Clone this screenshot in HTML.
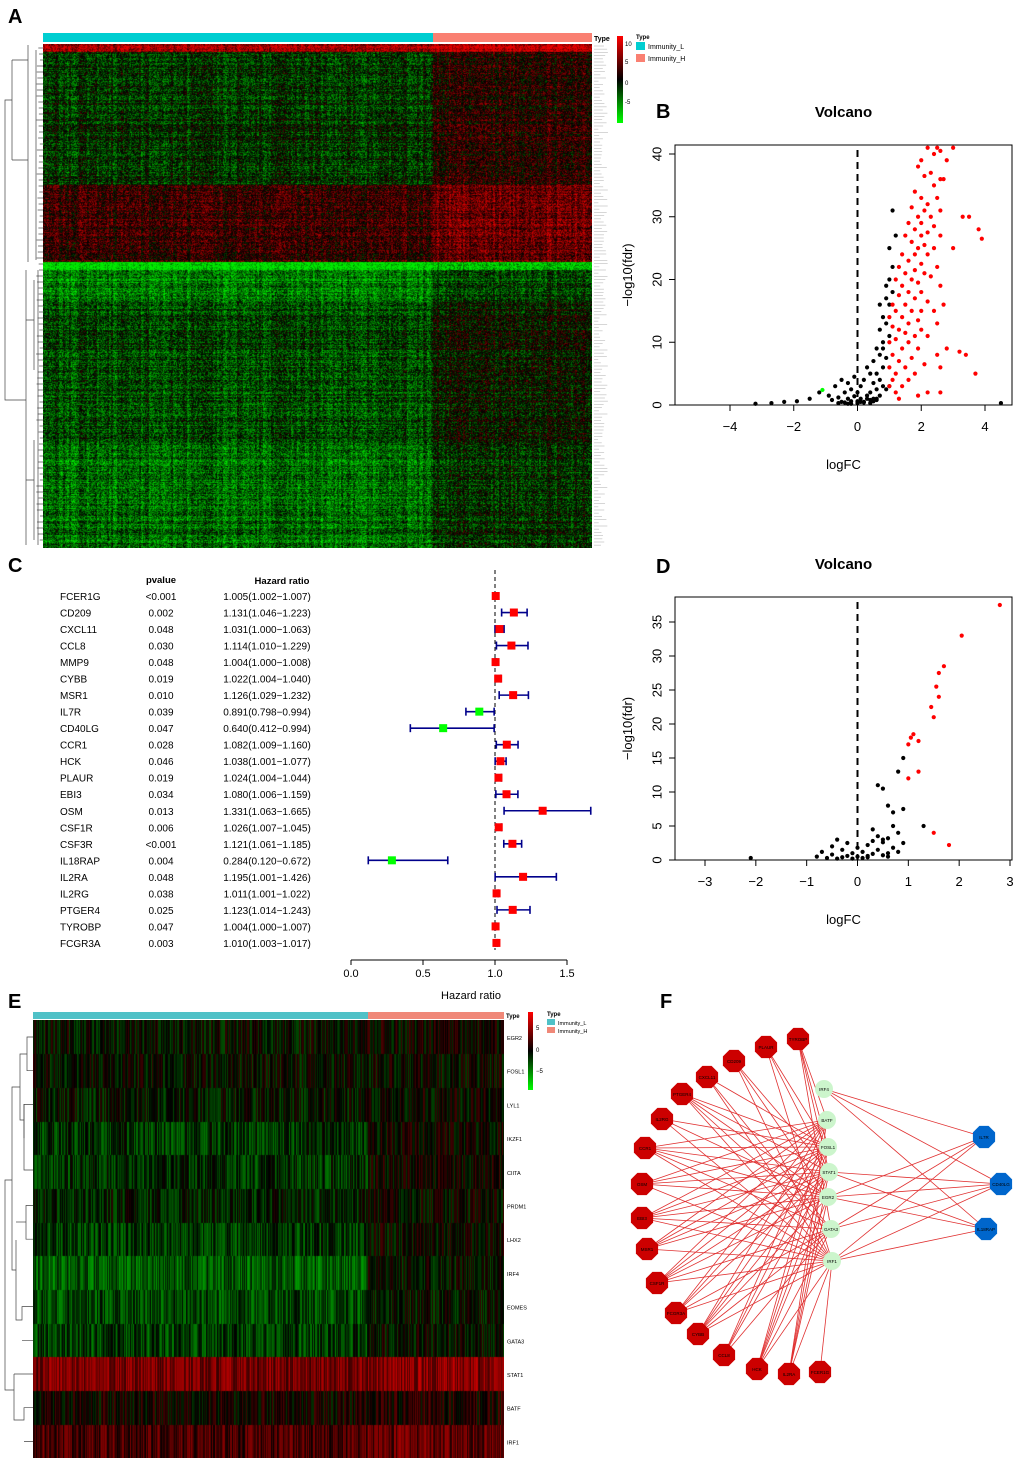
<!DOCTYPE html>
<html><head><meta charset="utf-8">
<style>
html,body{margin:0;padding:0;background:#fff;}
#root{position:relative;width:1020px;height:1464px;overflow:hidden;font-family:"Liberation Sans",Arial,sans-serif;}
canvas{position:absolute;}
svg{position:absolute;left:0;top:0;}
</style></head>
<body>
<div id="root">
<canvas id="hmA" width="549" height="504" style="left:43px;top:44px"></canvas>
<canvas id="hmE" width="471" height="438" style="left:33px;top:1020px"></canvas>
<svg id="svg" width="1020" height="1464" xmlns="http://www.w3.org/2000/svg" font-family="Liberation Sans, Arial, sans-serif"></svg>
</div>
<script>
// ---------- DATA ----------
// Heatmap A bands: [startPx, endPx, meanLow, meanHigh]
const aBandStart=[0,8,141,218,226,256,396];
const aBandEnd=[8,141,218,226,256,396,504];
const aMeanL=[0.7,-0.22,0.22,-0.9,-0.55,-0.32,-0.45];
const aMeanH=[0.85,0.15,0.45,-0.75,-0.3,-0.05,-0.18];
// Heatmap E rows
const eGenes=["EGR2","FOSL1","LYL1","IKZF1","CIITA","PRDM1","LHX2","IRF4","EOMES","GATA3","STAT1","BATF","IRF1"];
const eMeanL=[-0.05,-0.03,-0.08,-0.22,-0.2,-0.12,-0.25,-0.38,-0.3,-0.26,0.5,0.05,0.3];
const eMeanH=[0.03,0.0,0.0,0.03,0.03,0.0,0.0,-0.06,-0.06,-0.03,0.55,0.12,0.4];
// Volcano B
const bRedX=[2.2,2.5,2.6,3.0,2.4,2.0,2.8,1.9,2.3,2.1,2.6,2.7,2.4,1.8,2.0,2.5,2.2,1.7,2.1,2.6,3.3,3.5,1.9,2.3,1.6,2.0,2.4,3.8,1.8,2.2,1.5,2.0,2.6,3.9,1.7,2.1,1.9,2.4,3.0,1.4,1.8,2.2,1.6,2.0,2.5,1.3,1.8,1.5,2.1,2.3,1.2,1.7,1.9,2.6,1.4,1.6,2.0,1.3,1.8,2.2,1.1,1.5,2.7,1.7,1.2,2.0,2.4,1.0,1.4,1.9,1.6,2.5,1.1,1.3,2.0,1.5,1.8,2.2,1.2,1.0,1.6,2.8,3.2,3.4,1.4,1.9,2.5,1.1,1.7,1.3,2.1,1.0,1.5,2.6,1.2,1.8,3.7,1.1,1.6,1.0,1.4,1.2,2.2,2.6,1.9,1.3];
const bRedY=[41,41,40.5,41,40,39,39,38,37,36.5,36,36,35,34,33,33,32,31.5,31,31,30,30,30,30,29,29,28.5,28,28,27.5,27,27,27,26.5,26,25.5,25,25,25,24,24,24,23,22.5,22,22,21.5,21,21,20.5,20,20,19.5,19,19,18,18,17.5,17,16.5,16,16,16,15,15,15,15,14,14,13.5,13,13,12.5,12,12,11.5,11,11,10.5,10,10,9,8.5,8,9,9,8,8,7.5,7,6.5,6,6,6,5,5,5,4,4,3,3,2,2,2,1.5,1];
const bBlkX=[-3.2,-2.7,-2.3,-1.9,-1.5,-1.2,-0.9,-0.8,-0.7,-0.6,-0.5,-0.5,-0.4,-0.3,-0.3,-0.2,-0.2,-0.1,-0.1,0,0,0.1,0.1,0.2,0.2,0.3,0.3,0.4,0.4,0.5,0.5,0.5,0.6,0.6,0.6,0.7,0.7,0.7,0.8,0.8,0.8,0.9,0.9,0.9,1.0,1.0,1.0,1.1,1.1,1.2,-0.6,-0.4,-0.2,0,0.2,0.4,0.6,0.3,0.5,0.7,0.9,1.0,0.8,0.6,0.4,-0.3,0.1,4.5,0.7,1.1,0.9,1.0,0.8];
const bBlkY=[0.2,0.3,0.5,0.6,1.0,2.0,1.5,0.8,3.0,1.2,4.0,0.5,2.0,1.0,3.5,0.6,2.5,1.4,4.5,0.3,2.0,1.0,3.0,0.5,4.0,1.5,6.0,2.0,5.0,1.0,3.5,7.0,2.5,5.0,9.0,4.0,8.0,12.0,6.0,10.0,14.0,7.5,13.0,17.0,11.0,20.0,25.0,22.0,31.0,27.0,0.3,0.4,0.2,0.6,0.4,0.3,0.8,1.0,0.6,1.5,2.5,3.0,3.0,1.0,0.8,0.2,0.5,0.3,16,18,19,16,9];
const bGreenX=[-1.1], bGreenY=[2.4];
// Forest C
const cGenes=["FCER1G","CD209","CXCL11","CCL8","MMP9","CYBB","MSR1","IL7R","CD40LG","CCR1","HCK","PLAUR","EBI3","OSM","CSF1R","CSF3R","IL18RAP","IL2RA","IL2RG","PTGER4","TYROBP","FCGR3A"];
const cP=["<0.001","0.002","0.048","0.030","0.048","0.019","0.010","0.039","0.047","0.028","0.046","0.019","0.034","0.013","0.006","<0.001","0.004","0.048","0.038","0.025","0.047","0.003"];
const cHR=[1.005,1.131,1.031,1.114,1.004,1.022,1.126,0.891,0.640,1.082,1.038,1.024,1.080,1.331,1.026,1.121,0.284,1.195,1.011,1.123,1.004,1.010];
const cLo=[1.002,1.046,1.000,1.010,1.000,1.004,1.029,0.798,0.412,1.009,1.001,1.004,1.006,1.063,1.007,1.061,0.120,1.001,1.001,1.014,1.000,1.003];
const cHi=[1.007,1.223,1.063,1.229,1.008,1.040,1.232,0.994,0.994,1.160,1.077,1.044,1.159,1.665,1.045,1.185,0.672,1.426,1.022,1.243,1.007,1.017];
// Volcano D
const dRedX=[2.8,2.05,1.7,1.6,1.55,1.6,1.45,1.5,1.1,1.05,1.2,1.0,1.2,1.0,1.5,1.8];
const dRedY=[37.5,33,28.5,27.5,25.5,24,22.5,21,18.5,18,17.5,17,13,12,4,2.2];
const dBlkX=[-2.1,-0.8,-0.7,-0.6,-0.5,-0.5,-0.4,-0.3,-0.3,-0.2,-0.2,-0.1,-0.1,0,0,0.1,0.1,0.2,0.2,0.3,0.3,0.4,0.4,0.5,0.5,0.6,0.6,0.7,0.7,0.8,0.8,0.9,0.4,0.5,0.9,0.8,0.6,0.7,0.9,1.3,0.3,0.5,-0.4,0.2,0.6];
const dBlkY=[0.3,0.5,1.2,0.3,2.0,0.8,3.0,0.4,1.5,2.5,0.6,1.0,0.2,0.5,1.8,0.3,1.2,0.6,2.2,0.9,2.8,1.5,3.5,0.7,2.6,1.0,3.2,1.8,5.0,1.2,4.0,2.5,11,10.5,15,13,8,7,7.5,5,4.5,3,0.2,0.4,0.5];
// Network F
const redNodes=["TYROBP","PLAUR","CD209","CXCL11","PTGER4","IL2RG","CCR1","OSM","EBI3","MSR1","CSF1R","FCGR3A","CYBB","CCL8","HCK","IL2RA","FCER1G"];
const greenNodes=["IRF4","BATF","FOSL1","STAT1","EGR2","GATA3","IRF1"];
const blueNodes=["IL7R","CD40LG","IL18RAP"];
const edgesRed=[[0,[1,2,3,5]],[1,[2,3,6]],[2,[3,4,6]],[3,[2,5,6]],[4,[2,3,4,5,6]],[5,[2,4,6]],[6,[1,2,3,4,5,6]],[7,[1,2,3,4,6]],[8,[1,2,3,4,5,6]],[9,[1,2,3,4,6]],[10,[1,2,3,4,5,6]],[11,[1,2,3,5,6]],[12,[1,2,3,4,5,6]],[13,[1,2,3,5]],[14,[1,2,3,4,5,6]],[15,[1,2,3,4,6]],[16,[6]]];
const edgesBlue=[[0,[0,4,5,6]],[1,[0,3,4,5,6]],[2,[0,3,4,6]]];

// ---------- helpers ----------
const S=document.getElementById('svg');const NS='http://www.w3.org/2000/svg';
function el(tag,attrs,parent){const e=document.createElementNS(NS,tag);for(const k in attrs)e.setAttribute(k,attrs[k]);(parent||S).appendChild(e);return e;}
function txt(x,y,s,size,opts,parent){const e=el('text',Object.assign({x:x,y:y,'font-size':size,fill:'#000'},opts||{}),parent);e.textContent=s;return e;}
function hash(a,b){let h=(a*374761393+b*668265263)|0;h=(h^(h>>>13))*1274126177|0;h=h^(h>>>16);return ((h>>>0)%10000)/10000;}
function col(v){v=Math.max(-1,Math.min(1,v));if(v>=0)return [Math.round(235*v),0,0];return [0,Math.round(235*-v),0];}

// ---------- Heatmap A ----------
(function(){const c=document.getElementById('hmA').getContext('2d');const W=549,H=504;const split=390;
const img=c.createImageData(W,H);
for(let b=0;b<aBandStart.length;b++){for(let y=aBandStart[b];y<aBandEnd[b];y++){const rn=(hash(y,7)-0.5)*0.3;for(let x=0;x<W;x++){const L=x<split;const m=L?aMeanL[b]:aMeanH[b];const cn=(hash(Math.floor(x/2),13)-0.5)*0.3;const v=m+rn+cn+(hash(x,y*3+1)-0.5)*0.7;const [r,g,bb]=col(v);const i=(y*W+x)*4;img.data[i]=r;img.data[i+1]=g;img.data[i+2]=bb;img.data[i+3]=255;}}}
c.putImageData(img,0,0);})();
// ---------- Heatmap E ----------
(function(){const c=document.getElementById('hmE').getContext('2d');const W=471,H=438;const split=335;const rh=H/eGenes.length;
const img=c.createImageData(W,H);
for(let y=0;y<H;y++){const r=Math.min(eGenes.length-1,Math.floor(y/rh));for(let x=0;x<W;x++){const L=x<split;const m=L?eMeanL[r]:eMeanH[r];const v=m+(hash(x,r*17+3)-0.5)*0.6;const [R,G,B]=col(v);const i=(y*W+x)*4;img.data[i]=R;img.data[i+1]=G;img.data[i+2]=B;img.data[i+3]=255;}}
c.putImageData(img,0,0);})();

// ---------- Panel A decorations ----------
txt(8,23,'A',20,{'font-weight':'bold'});
el('rect',{x:43,y:33,width:390,height:9,fill:'#00ced1',});
el('rect',{x:433,y:33,width:159,height:9,fill:'#fa8072',});
txt(594,41,'Type',7,{'font-weight':'bold'});
(function(){const g=el('defs',{});const lg=el('linearGradient',{id:'gA',x1:0,y1:0,x2:0,y2:1},g);
el('stop',{offset:'0','stop-color':'#ff0000'},lg);el('stop',{offset:'0.5','stop-color':'#000'},lg);el('stop',{offset:'1','stop-color':'#00ff00'},lg);})();
el('rect',{x:617,y:36,width:6,height:87,fill:'url(#gA)',});
txt(625,46,'10',6);txt(625,64,'5',6);txt(625,85,'0',6);txt(625,104,'-5',6);
txt(636,39,'Type',6,{'font-weight':'bold'});
el('rect',{x:636,y:42,width:9,height:8,fill:'#00ced1'});txt(648,49,'Immunity_L',7);
el('rect',{x:636,y:54,width:9,height:8,fill:'#fa8072'});txt(648,61,'Immunity_H',7);
for(let y=46;y<548;y+=3.2){el('line',{x1:594,y1:y,x2:598+hash(y|0,5)*10,y2:y,stroke:'#ccc','stroke-width':0.8});}
(function(){const g=el('g',{stroke:'#444','stroke-width':0.7,fill:'none',});
const p=(d)=>el('path',{d:d},g);
p('M12,100 H5 V400 H12');p('M12,100 V60 M12,100 V160');
p('M28,45 V262 M28,160 H12 M28,60 H12');
p('M12,400 H26 M26,270 V545');p('M26,320 H34 M26,480 H34');p('M34,280 V370 M34,440 V540');
for(let y=48;y<545;y+=6){p('M'+(36+hash(y,2)*4)+','+y+' H43');}
p('M36,50 V260 M38,270 V545');})();

// ---------- Volcano helper ----------
function volcano(o){
 const g=el('g',{});
 const sx=v=>o.x0+(v-o.xmin)*(o.x1-o.x0)/(o.xmax-o.xmin);
 const sy=v=>o.y0-(v-o.ymin)*(o.y0-o.y1)/(o.ymax-o.ymin);
 el('rect',{x:o.bx0,y:o.by0,width:o.bx1-o.bx0,height:o.by1-o.by0,fill:'none',stroke:'#000','stroke-width':1},g);
 txt((o.bx0+o.bx1)/2,o.by0-28,'Volcano',15,{'font-weight':'bold','text-anchor':'middle'},g);
 o.xt.forEach(t=>{const x=sx(t);el('line',{x1:x,y1:o.by1,x2:x,y2:o.by1+6,stroke:'#000'},g);txt(x,o.by1+26,String(t).replace('-','−'),13,{'text-anchor':'middle'},g);});
 o.yt.forEach(t=>{const y=sy(t);el('line',{x1:o.bx0,y1:y,x2:o.bx0-6,y2:y,stroke:'#000'},g);txt(o.bx0-17,y,String(t),13,{'text-anchor':'middle',transform:'rotate(-90 '+(o.bx0-17)+' '+y+')','dominant-baseline':'middle'},g);});
 txt((o.bx0+o.bx1)/2,o.by1+64,'logFC',13,{'text-anchor':'middle'},g);
 const yl=(o.by0+o.by1)/2;txt(o.bx0-43,yl,'−log10(fdr)',13,{'text-anchor':'middle',transform:'rotate(-90 '+(o.bx0-43)+' '+yl+')'},g);
 el('line',{x1:sx(0),y1:o.by0+5,x2:sx(0),y2:o.by1,stroke:'#000','stroke-width':2,'stroke-dasharray':'7,5'},g);
 const dots=(X,Y,c,nm)=>X.forEach((x,i)=>{const d=el('circle',{cx:sx(x),cy:sy(Y[i]),r:2.1,fill:c},g);});
 dots(o.bx,o.by,'#000','black-point');dots(o.rx,o.ry,'#ff0000','red-point');if(o.gx)dots(o.gx,o.gy,'#00ff00','green-point');
}
txt(656,118,'B',20,{'font-weight':'bold'});
volcano({name:'volcano-b',bx0:675,bx1:1012,by0:145,by1:405,x0:730,x1:985,xmin:-4,xmax:4,y0:405,y1:154,ymin:0,ymax:40,xt:[-4,-2,0,2,4],yt:[0,10,20,30,40],bx:bBlkX,by:bBlkY,rx:bRedX,ry:bRedY,gx:bGreenX,gy:bGreenY});
txt(656,573,'D',20,{'font-weight':'bold'});
volcano({name:'volcano-d',bx0:675,bx1:1012,by0:597,by1:860,x0:705,x1:1010,xmin:-3,xmax:3,y0:860,y1:622,ymin:0,ymax:35,xt:[-3,-2,-1,0,1,2,3],yt:[0,5,10,15,20,25,30,35],bx:dBlkX,by:dBlkY,rx:dRedX,ry:dRedY});

// ---------- Forest C ----------
txt(8,572,'C',20,{'font-weight':'bold'});
(function(){const g=el('g',{});
 const sx=v=>351+v*144;const ry=i=>596+i*16.52;
 txt(161,583,'pvalue',9.5,{'font-weight':'bold','text-anchor':'middle'},g);
 txt(282,584,'Hazard ratio',9.5,{'font-weight':'bold','text-anchor':'middle'},g);
 el('line',{x1:sx(1),y1:570,x2:sx(1),y2:950,stroke:'#000','stroke-dasharray':'4,3'},g);
 cGenes.forEach((gn,i)=>{const y=ry(i);
  txt(60,y+4,gn,10,{},g);txt(161,y+4,cP[i],10,{'text-anchor':'middle'},g);
  txt(267,y+4,cHR[i].toFixed(3)+'('+cLo[i].toFixed(3)+'−'+cHi[i].toFixed(3)+')',10,{'text-anchor':'middle'},g);
  const c='#00008b';el('line',{x1:sx(cLo[i]),y1:y,x2:sx(cHi[i]),y2:y,stroke:c,'stroke-width':1.6},g);
  [cLo[i],cHi[i]].forEach(v=>el('line',{x1:sx(v),y1:y-4,x2:sx(v),y2:y+4,stroke:c,'stroke-width':1.6},g));
  const r=el('rect',{x:sx(cHR[i])-4,y:y-4,width:8,height:8,fill:cHR[i]>1?'#ff0000':'#00ff00'},g);
 });
 el('line',{x1:sx(0),y1:960,x2:sx(1.5),y2:960,stroke:'#000'},g);
 [0,0.5,1,1.5].forEach(t=>{el('line',{x1:sx(t),y1:960,x2:sx(t),y2:965,stroke:'#000'},g);txt(sx(t),977,t.toFixed(1),11,{'text-anchor':'middle'},g);});
 txt(471,999,'Hazard ratio',11,{'text-anchor':'middle'},g);
})();

// ---------- Panel E decorations ----------
txt(8,1008,'E',20,{'font-weight':'bold'});
el('rect',{x:33,y:1012,width:335,height:7,fill:'#4fc1c7',});
el('rect',{x:368,y:1012,width:136,height:7,fill:'#f08878',});
txt(506,1018,'Type',6,{'font-weight':'bold'});
el('rect',{x:528,y:1012,width:5,height:78,fill:'url(#gA)',});
txt(536,1030,'5',6);txt(536,1052,'0',6);txt(536,1073,'−5',6);
txt(547,1016,'Type',6,{'font-weight':'bold'});
el('rect',{x:547,y:1019,width:8,height:6,fill:'#4fc1c7'});txt(558,1025,'Immunity_L',5.5);
el('rect',{x:547,y:1027,width:8,height:6,fill:'#f08878'});txt(558,1033,'Immunity_H',5.5);
eGenes.forEach((gn,i)=>{txt(507,1040+i*33.7,gn,5.5,{},null);});
(function(){const g=el('g',{stroke:'#444','stroke-width':0.7,fill:'none',});
 const p=d=>el('path',{d:d},g);const rc=i=>1037+i*33.7;
 p('M33,'+rc(0)+' H27 V'+rc(1)+' H33');p('M27,1054 H20 V1120 H24');p('M33,'+rc(2)+' H24 V'+rc(3)+' ');p('M24,1104 V1170 H33');
 p('M20,1087 H12 V1270 H16');p('M33,'+rc(5)+' H26 V'+rc(6)+' H33');p('M16,1240 V1320 H22 V'+rc(8)+' H33 M22,'+rc(9)+' H33');p('M26,1222 H16');
 p('M12,1180 H5 V1390 H14');p('M14,'+rc(10)+' H33');p('M14,'+rc(10)+' V1420 H24 V'+rc(11)+' H33 M24,'+rc(12)+' H33');})();

// ---------- Network F ----------
txt(660,1008,'F',20,{'font-weight':'bold'});
(function(){
 const redPos=[[798,1039],[766,1047],[734,1061],[707,1077],[682,1094],[662,1119],[645,1148],[642,1184],[642,1218],[647,1249],[657,1283],[676,1313],[698,1334],[724,1355],[757,1369],[789,1374],[820,1372]];
 const greenPos=[[824,1089],[827,1120],[828,1147],[829,1172],[828,1197],[831,1229],[832,1261]];
 const bluePos=[[984,1137],[1001,1184],[986,1229]];
 const ge=el('g',{stroke:'#e03030','stroke-width':0.8,});
 edgesRed.forEach(([r,gs])=>gs.forEach(k=>el('line',{x1:redPos[r][0],y1:redPos[r][1],x2:greenPos[k][0],y2:greenPos[k][1]},ge)));
 edgesBlue.forEach(([b,gs])=>gs.forEach(k=>el('line',{x1:bluePos[b][0],y1:bluePos[b][1],x2:greenPos[k][0],y2:greenPos[k][1]},ge)));
 const oct=(cx,cy,r)=>{let s=[];for(let i=0;i<8;i++){const a=Math.PI/8+i*Math.PI/4;s.push((cx+r*Math.cos(a)).toFixed(1)+','+(cy+r*Math.sin(a)).toFixed(1));}return s.join(' ');};
 redNodes.forEach((n,i)=>{const g=el('g',{});el('polygon',{points:oct(redPos[i][0],redPos[i][1],12),fill:'#cc0000'},g);txt(redPos[i][0],redPos[i][1]+2,n,4.5,{'text-anchor':'middle'},g);});
 greenNodes.forEach((n,i)=>{const g=el('g',{});el('circle',{cx:greenPos[i][0],cy:greenPos[i][1],r:9,fill:'#ccf5cc'},g);txt(greenPos[i][0],greenPos[i][1]+2,n,4.5,{'text-anchor':'middle'},g);});
 blueNodes.forEach((n,i)=>{const g=el('g',{});el('polygon',{points:oct(bluePos[i][0],bluePos[i][1],12),fill:'#0066cc'},g);txt(bluePos[i][0],bluePos[i][1]+2,n,4.5,{'text-anchor':'middle'},g);});
})();
</script>
</body></html>
